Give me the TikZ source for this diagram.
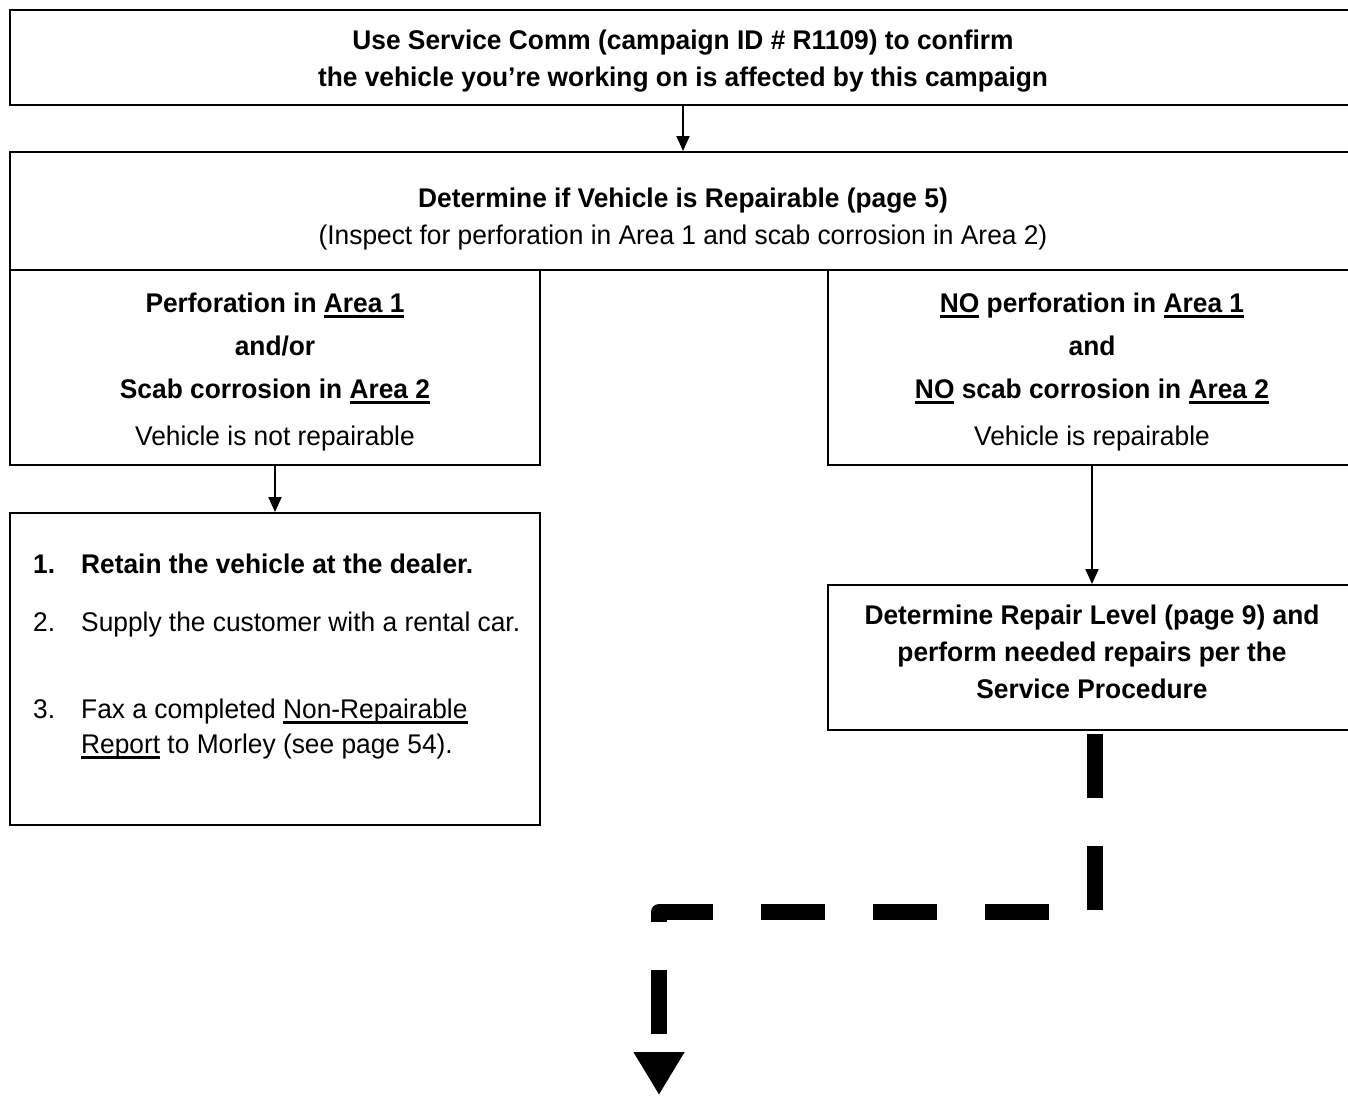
\documentclass[tikz,border=0pt]{standalone}
\usepackage{fontspec}
\setmainfont{Liberation Sans}[FakeStretch=0.975]
\usetikzlibrary{arrows.meta,positioning}
\newcommand{\undl}[1]{\leavevmode\setbox0\hbox{#1}\rlap{\rule[-5.5pt]{\wd0}{2.5pt}}\box0{}}

\begin{document}
\begin{tikzpicture}[x=1pt,y=-1pt,>={Triangle[width=13pt,length=15pt]},every node/.append style={align=center,font=\fontsize{27}{37}\selectfont},box/.style={draw,rectangle,line width=2pt,inner sep=0pt},item/.style={anchor=base west,inner sep=0pt},link/.style={->,line width=2pt},bigdash/.style={line width=16pt,dash pattern=on 64pt off 48pt,line join=round}]
    \useasboundingbox (0,0) rectangle (1348,1095);
    \node [box, minimum width=1346pt, minimum height=95pt] (confirm) at (683,57.5) {\rule{0pt}{26pt}\textbf{Use Service Comm (campaign ID \# R1109) to confirm}\\\textbf{the vehicle you’re working on is affected by this campaign}};
    \node [box, minimum width=1346pt, minimum height=118pt] (repairable) at (683,211) {\rule{0pt}{36pt}\textbf{Determine if Vehicle is Repairable (page 5)}\\(Inspect for perforation in Area 1 and scab corrosion in Area 2)};
    \node [box, minimum width=530pt, minimum height=195pt] (notrep) at (275,367.5) {\rule{0pt}{28pt}\textbf{Perforation in \undl{Area 1}}\\[6pt]\textbf{and/or}\\[6pt]\textbf{Scab corrosion in \undl{Area 2}}\\[10pt]Vehicle is not repairable};
    \node [box, minimum width=528pt, minimum height=195pt] (rep) at (1092,367.5) {\rule{0pt}{28pt}\textbf{\undl{NO} perforation in \undl{Area 1}}\\[6pt]\textbf{and}\\[6pt]\textbf{\undl{NO} scab corrosion in \undl{Area 2}}\\[10pt]Vehicle is repairable};
    \node [box, minimum width=530pt, minimum height=312pt] (retain) at (275,669) {};
    \node [item] (step1) at (33,573) {\textbf{\makebox[48pt][l]{1.}Retain the vehicle at the dealer.}};
    \node [item] (step2) at (33,631) {\makebox[48pt][l]{2.}Supply the customer with a rental car.};
    \node [item] (step3) at (33,718) {\makebox[48pt][l]{3.}Fax a completed \undl{Non-Repairable}};
    \node [item] (step3b) at (81,753) {\undl{Report} to Morley (see page 54).};
    \node [box, minimum width=528pt, minimum height=145pt] (fix) at (1092,657.5) {\textbf{Determine Repair Level (page 9) and}\\\textbf{perform needed repairs per the}\\\textbf{Service Procedure}\rule[-12pt]{0pt}{1pt}};
    \path[link] (confirm) edge (repairable);
    \path[link] (notrep) edge (retain);
    \path[link] (rep) edge (fix);
    % thick dashed lead-out
    \coordinate (bend) at (659,912);
    \coordinate (tip) at (659,1095);
    \draw[bigdash,-{Triangle[width=48pt,length=43pt]}] ([xshift=3pt,yshift=-3pt]fix.south) |- (bend) -- (tip);
\end{tikzpicture}
\end{document}
